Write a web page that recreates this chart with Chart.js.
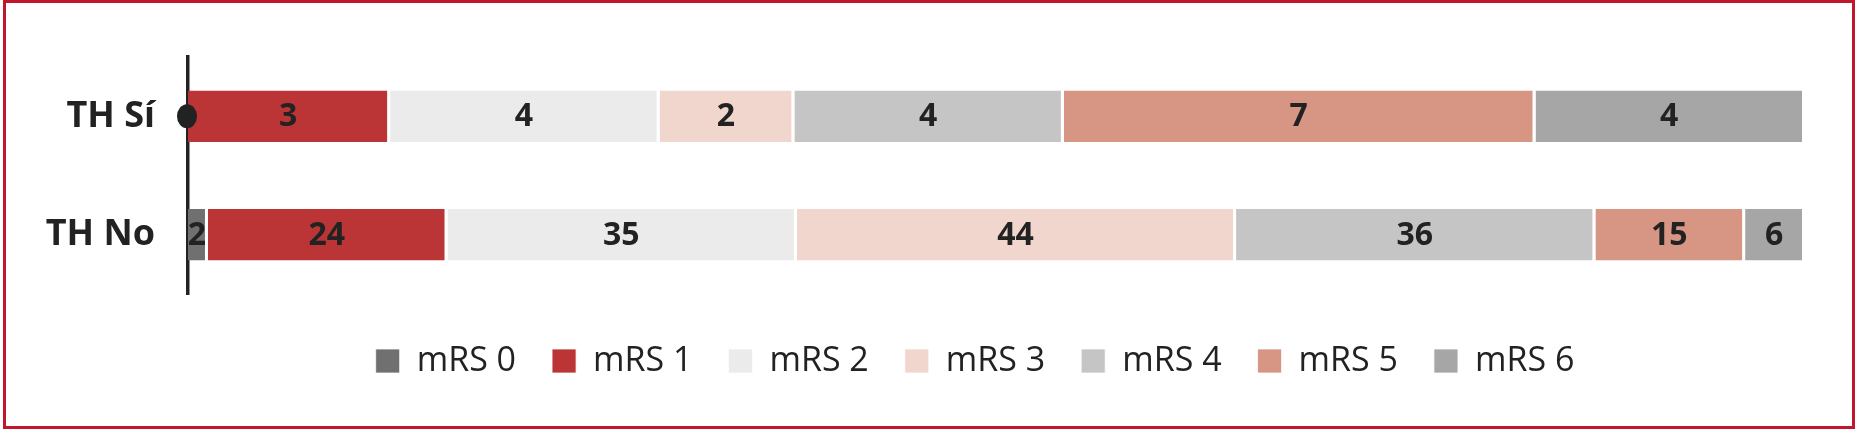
<!DOCTYPE html>
<html>
<head>
<meta charset="utf-8">
<script src="https://cdn.jsdelivr.net/npm/chart.js@4.4.1/dist/chart.umd.min.js"></script>
<style>
  body { margin: 0; background: #fff; }
  #wrap { position: relative; width: 1858px; height: 429px; }
  #frame { position: absolute; left: 3px; top: 0; width: 1852px; height: 429px; box-sizing: border-box; border: 3px solid #c1172c; pointer-events: none; }
</style>
</head>
<body>
<div id="wrap">
  <canvas id="myChart" width="1858" height="429"></canvas>
  <div id="frame"></div>
</div>
<script>
const categories = ['TH Sí', 'TH No'];
const seriesNames = ['mRS 0', 'mRS 1', 'mRS 2', 'mRS 3', 'mRS 4', 'mRS 5', 'mRS 6'];
// counts per mRS level, one entry per category
const mrs0 = [0, 2];
const mrs1 = [3, 24];
const mrs2 = [4, 35];
const mrs3 = [2, 44];
const mrs4 = [4, 36];
const mrs5 = [7, 15];
const mrs6 = [4, 6];
const colors = ['#707070', '#bb3536', '#ebebeb', '#f0d6cc', '#c5c5c5', '#d79584', '#a6a6a6'];

const counts = [mrs0, mrs1, mrs2, mrs3, mrs4, mrs5, mrs6];
const totals = categories.map((c, i) => counts.reduce((s, arr) => s + arr[i], 0));

const datasets = counts.map((arr, k) => ({
    label: seriesNames[k],
    data: arr.map((v, i) => v / totals[i] * 100),
    raw: arr,
    backgroundColor: colors[k],
    borderColor: '#ffffff',
    borderWidth: { top: 0, bottom: 0, left: 0, right: 3 },
    borderSkipped: 'start',
    barPercentage: 0.434,
    categoryPercentage: 1
}));

// numbers written inside each segment
const valueLabels = {
    id: 'valueLabels',
    afterDatasetsDraw(chart) {
        const ctx = chart.ctx;
        ctx.save();
        ctx.font = 'bold 32px "Open Sans"';
        ctx.fillStyle = '#222';
        ctx.textAlign = 'center';
        ctx.textBaseline = 'middle';
        chart.data.datasets.forEach((ds, k) => {
            const meta = chart.getDatasetMeta(k);
            meta.data.forEach((bar, i) => {
                const v = ds.raw[i];
                if (!v) return;
                const x = (bar.x + bar.base) / 2 - 1;
                ctx.fillText(String(v), x, bar.y + 1);
            });
        });
        ctx.restore();
    }
};

// black dot on the axis at the first row
const axisDot = {
    id: 'axisDot',
    afterDraw(chart) {
        const ctx = chart.ctx;
        const x = chart.scales.x.getPixelForValue(0);
        const y = chart.scales.y.getPixelForValue(0);
        ctx.save();
        ctx.fillStyle = '#222';
        ctx.beginPath();
        ctx.ellipse(x - 1, y, 10, 12, 0, 0, Math.PI * 2);
        ctx.fill();
        ctx.restore();
    }
};

// the legend in the original sits a bit right of the page centre
const legendShift = {
    id: 'legendShift',
    afterLayout(chart) {
        const lg = chart.legend;
        const dx = 975 - (lg.left + lg.right) / 2;
        lg.left += dx;
        lg.right += dx;
    }
};

new Chart(document.getElementById('myChart').getContext('2d'), {
    type: 'bar',
    data: { labels: categories, datasets: datasets },
    options: {
        indexAxis: 'y',
        responsive: false,
        animation: false,
        layout: { padding: { left: 0, right: 53, top: 57, bottom: 41 } },
        scales: {
            x: {
                stacked: true,
                min: 0,
                max: 100,
                grid: { display: false },
                border: { display: false },
                ticks: { display: false },
                afterFit(axis) { axis.height = 14; }
            },
            y: {
                stacked: true,
                grid: { display: false, drawTicks: false },
                border: { display: true, color: '#222', width: 3.5 },
                ticks: {
                    color: '#222',
                    padding: 33,
                    font: { family: 'Open Sans', size: 36, weight: 'bold' }
                },
                afterFit(axis) { axis.width = 188; }
            }
        },
        plugins: {
            tooltip: { enabled: false },
            legend: {
                position: 'bottom',
                labels: {
                    boxWidth: 24,
                    boxHeight: 24,
                    padding: 36,
                    color: '#222',
                    font: { family: 'Open Sans', size: 34 }
                }
            }
        }
    },
    plugins: [valueLabels, axisDot, legendShift]
});
</script>
</body>
</html>
